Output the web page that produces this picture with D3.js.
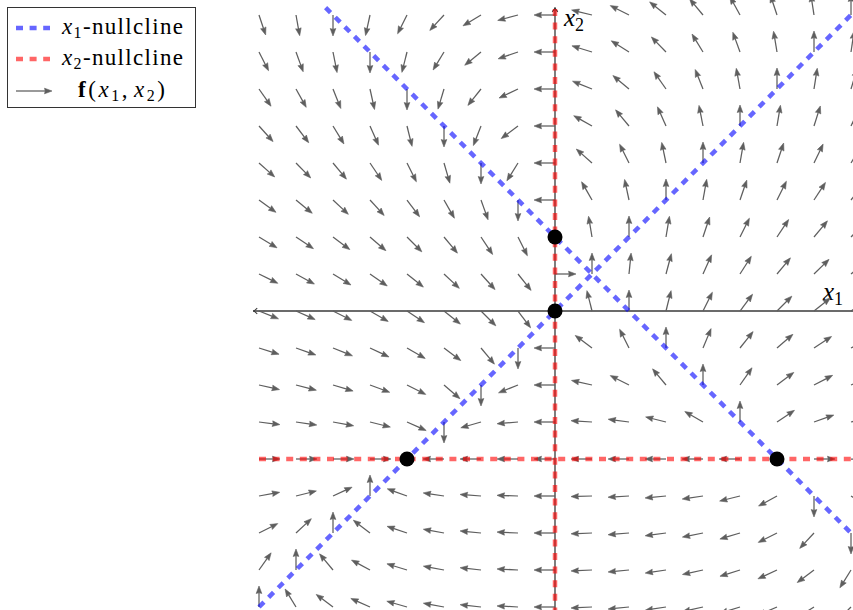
<!DOCTYPE html>
<html>
<head>
<meta charset="utf-8">
<script src="https://cdn.jsdelivr.net/npm/d3@7"></script>
<style>
  html, body { margin: 0; padding: 0; background: #fff; }
  svg { display: block; }
  text { font-family: "Liberation Serif", "DejaVu Serif", serif; }
</style>
</head>
<body>
<svg id="chart" width="853" height="610"></svg>
<script>
// Phase portrait of  x1' = (x1 - x2)(x1 + x2 - 1),  x2' = x1 (x2 + 2)
const gridValues = [-4, -3.5, -3, -2.5, -2, -1.5, -1, -0.5, 0, 0.5, 1, 1.5, 2, 2.5, 3, 3.5, 4];
const equilibria = [[0, 0], [0, 1], [-2, -2], [3, -2]];
// nullclines as segments [[x1, x2], [x1, x2]]
const x1Nullclines = [[[-4, -4], [4.1, 4.1]], [[-3.1, 4.1], [4.2, -3.2]]];
const x2Nullclines = [[[0, -4.1], [0, 4.1]], [[-4, -2], [4.1, -2]]];

function field(x1, x2) {
  return [(x1 - x2) * (x1 + x2 - 1), x1 * (x2 + 2)];
}

const svg = d3.select("#chart");
const x = d3.scaleLinear().domain([-4, 4]).range([259, 851]);
const y = d3.scaleLinear().domain([-4, 4]).range([607, 15]);

const axisColor = "#3a3a3a";
const arrowColor = "#5e5e5e";

// axes with open arrow tips
const axes = svg.append("g");
axes.append("line").attr("x1", x(-4.08)).attr("x2", x(4.1)).attr("y1", y(0)).attr("y2", y(0))
  .attr("stroke", axisColor).attr("stroke-width", 1.3);
axes.append("line").attr("x1", x(0)).attr("x2", x(0)).attr("y1", y(-4.1)).attr("y2", y(4.1))
  .attr("stroke", axisColor).attr("stroke-width", 1.3);
function tip(px, py, angle) {
  const a = angle, s = 5;
  const p1 = [px - s * Math.cos(a - 0.6), py - s * Math.sin(a - 0.6)];
  const p2 = [px - s * Math.cos(a + 0.6), py - s * Math.sin(a + 0.6)];
  axes.append("path").attr("d", `M${p1}Q${px - 1.5 * Math.cos(a)},${py - 1.5 * Math.sin(a)} ${px},${py}Q${px - 1.5 * Math.cos(a)},${py - 1.5 * Math.sin(a)} ${p2}`)
    .attr("fill", "none").attr("stroke", axisColor).attr("stroke-width", 1.1);
}
tip(x(-4.08), y(0), Math.PI);
tip(x(4.1), y(0), 0);
tip(x(0), y(4.1), -Math.PI / 2);
tip(x(0), y(-4.1), Math.PI / 2);

// axis labels
function mathLabel(g, px, py, name, sub, size) {
  const t = g.append("text").attr("x", px).attr("y", py).attr("font-size", size);
  t.append("tspan").attr("font-style", "italic").text(name);
  t.append("tspan").attr("font-size", size * 0.72).attr("dy", size * 0.2).text(sub);
  return t;
}
mathLabel(svg, 564, 26, "x", "2", 25);
mathLabel(svg, 823, 300, "x", "1", 25);

// direction field: normalized arrows with their tails on the grid
const L = 21, headLen = 7.5, headHalf = 2.8;
const vectors = [];
gridValues.forEach(a => gridValues.forEach(b => {
  const [u, v] = field(a, b);
  const n = Math.hypot(u, v);
  if (n > 1e-9) vectors.push({ a, b, dx: u / n, dy: -v / n });
}));
function arrowPaths(g, tx, ty, dx, dy, len, color) {
  const hx = tx + dx * len, hy = ty + dy * len;
  const bx = hx - dx * headLen, by = hy - dy * headLen;
  g.append("line").attr("x1", tx).attr("y1", ty).attr("x2", bx + dx * 1).attr("y2", by + dy * 1)
    .attr("stroke", color).attr("stroke-width", 1.25);
  const nx = -dy, ny = dx;
  g.append("path")
    .attr("d", `M${hx},${hy}L${bx + nx * headHalf},${by + ny * headHalf}Q${bx + dx * 1.5},${by + dy * 1.5} ${bx - nx * headHalf},${by - ny * headHalf}Z`)
    .attr("fill", color).attr("stroke", color).attr("stroke-width", 0.6).attr("stroke-linejoin", "round");
}
const arrows = svg.append("g");
vectors.forEach(d => arrowPaths(arrows, x(d.a), y(d.b), d.dx, d.dy, L, arrowColor));

// nullclines
const dash = "7 6.6";
const nc = svg.append("g");
x1Nullclines.forEach(s => nc.append("line")
  .attr("x1", x(s[0][0])).attr("y1", y(s[0][1])).attr("x2", x(s[1][0])).attr("y2", y(s[1][1]))
  .attr("stroke", "rgb(0,0,255)").attr("stroke-opacity", 0.6).attr("stroke-width", 4.5).attr("stroke-dasharray", dash));
x2Nullclines.forEach(s => nc.append("line")
  .attr("x1", x(s[0][0])).attr("y1", y(s[0][1])).attr("x2", x(s[1][0])).attr("y2", y(s[1][1]))
  .attr("stroke", "rgb(255,0,0)").attr("stroke-opacity", 0.6).attr("stroke-width", 4.5).attr("stroke-dasharray", dash));

// equilibria
svg.append("g").selectAll("circle").data(equilibria).join("circle")
  .attr("cx", d => x(d[0])).attr("cy", d => y(d[1])).attr("r", 7.5).attr("fill", "#000");

// legend
const lg = svg.append("g");
lg.append("rect").attr("x", 7.5).attr("y", 7.5).attr("width", 188).attr("height", 100)
  .attr("fill", "#fff").attr("stroke", "#333").attr("stroke-width", 1);
const rows = [28, 59, 91];
lg.append("line").attr("x1", 16).attr("x2", 50).attr("y1", rows[0]).attr("y2", rows[0])
  .attr("stroke", "rgb(0,0,255)").attr("stroke-opacity", 0.6).attr("stroke-width", 4.5).attr("stroke-dasharray", dash);
lg.append("line").attr("x1", 16).attr("x2", 50).attr("y1", rows[1]).attr("y2", rows[1])
  .attr("stroke", "rgb(255,0,0)").attr("stroke-opacity", 0.6).attr("stroke-width", 4.5).attr("stroke-dasharray", dash);
arrowPaths(lg, 16, rows[2], 1, 0, 36, arrowColor);

function legendNull(py, sub) {
  const t = lg.append("text").attr("x", 62).attr("y", py + 6).attr("font-size", 23)
    .attr("textLength", 121).attr("lengthAdjust", "spacing");
  t.append("tspan").attr("font-style", "italic").text("x");
  t.append("tspan").attr("font-size", 16).attr("dy", 4).text(sub);
  t.append("tspan").attr("dy", -4).text("-nullcline");
}
legendNull(rows[0], "1");
legendNull(rows[1], "2");
const ft = lg.append("text").attr("x", 78).attr("y", rows[2] + 6).attr("font-size", 23)
  .attr("textLength", 87).attr("lengthAdjust", "spacing");
ft.append("tspan").attr("font-weight", "bold").text("f");
ft.append("tspan").text("(");
ft.append("tspan").attr("font-style", "italic").text("x");
ft.append("tspan").attr("font-size", 16).attr("dy", 4).text("1");
ft.append("tspan").attr("dy", -4).text(",");
ft.append("tspan").attr("font-style", "italic").attr("dx", 4).text("x");
ft.append("tspan").attr("font-size", 16).attr("dy", 4).text("2");
ft.append("tspan").attr("dy", -4).text(")");
</script>
</body>
</html>
